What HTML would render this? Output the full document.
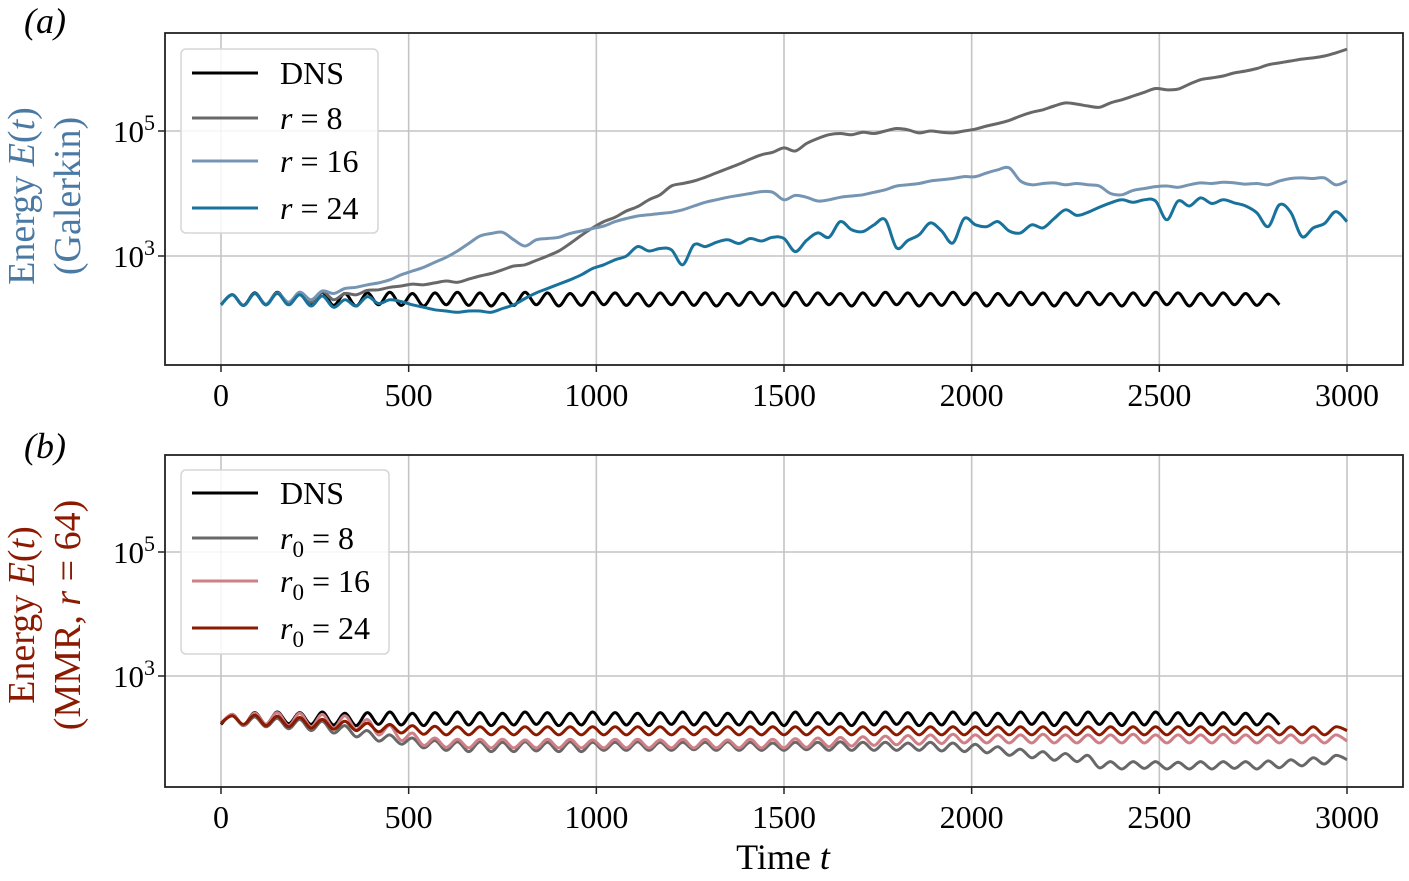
<!DOCTYPE html>
<html><head><meta charset="utf-8">
<style>
html,body{margin:0;padding:0;background:#fff;}
svg{display:block;font-family:"Liberation Serif","DejaVu Serif",serif;}
</style></head>
<body>
<svg id="chart" width="1409" height="881" viewBox="0 0 1409 881" xmlns="http://www.w3.org/2000/svg">
<rect x="0" y="0" width="1409" height="881" fill="#fff"/>
<g id="gA"></g>
<g id="gB"></g>
<text x="24" y="33" font-size="36" font-style="italic">(a)</text>
<text x="24" y="458" font-size="36" font-style="italic">(b)</text>
<text transform="translate(34,196) rotate(-90)" text-anchor="middle" font-size="38" fill="#4a7aa3">Energy <tspan font-style="italic">E</tspan>(<tspan font-style="italic">t</tspan>)</text>
<text transform="translate(80,196) rotate(-90)" text-anchor="middle" font-size="38" fill="#4a7aa3">(Galerkin)</text>
<text transform="translate(34,615) rotate(-90)" text-anchor="middle" font-size="38" fill="#8b1a00">Energy <tspan font-style="italic">E</tspan>(<tspan font-style="italic">t</tspan>)</text>
<text transform="translate(80,615) rotate(-90)" text-anchor="middle" font-size="38" fill="#8b1a00">(MMR, <tspan font-style="italic">r</tspan> = 64)</text>
<text x="783" y="869" text-anchor="middle" font-size="36">Time <tspan font-style="italic">t</tspan></text>
</svg>
<script>
const DT = 30;
const xTicks = [0, 500, 1000, 1500, 2000, 2500, 3000];
const yTickExps = [3, 5];
const dnsA = [2.22,2.38,2.21,2.41,2.22,2.42,2.23,2.41,2.22,2.42,
2.21,2.40,2.20,2.41,2.22,2.42,2.21,2.40,2.20,2.41,
2.22,2.42,2.21,2.41,2.20,2.40,2.21,2.42,2.22,2.41,
2.20,2.40,2.21,2.42,2.22,2.41,2.21,2.40,2.20,2.41,
2.22,2.42,2.21,2.41,2.20,2.40,2.21,2.42,2.22,2.41,
2.20,2.42,2.21,2.41,2.22,2.40,2.20,2.41,2.21,2.42,
2.22,2.41,2.20,2.40,2.21,2.42,2.22,2.41,2.20,2.40,
2.21,2.42,2.22,2.41,2.20,2.41,2.21,2.42,2.22,2.40,
2.20,2.41,2.21,2.42,2.22,2.41,2.20,2.40,2.21,2.41,
2.22,2.40,2.21,2.39,2.22];
const r8A = [2.22,2.38,2.21,2.40,2.22,2.41,2.24,2.42,2.26,2.43,2.30,2.40,2.38,2.45,2.46,2.50,2.52,2.55,2.54,2.57,
2.60,2.58,2.63,2.68,2.72,2.78,2.84,2.86,2.93,3.00,3.08,3.20,3.33,3.45,3.55,3.62,3.72,3.79,3.90,3.98,
4.12,4.16,4.20,4.26,4.33,4.40,4.47,4.55,4.62,4.66,4.73,4.68,4.80,4.88,4.94,4.96,4.94,4.98,4.96,5.00,
5.04,5.02,4.97,5.00,4.98,4.97,5.00,5.03,5.08,5.12,5.17,5.24,5.30,5.34,5.40,5.45,5.43,5.40,5.38,5.45,
5.50,5.56,5.62,5.68,5.66,5.67,5.75,5.82,5.85,5.88,5.93,5.96,6.00,6.06,6.09,6.12,6.15,6.17,6.20,6.25,6.31];
const r16A = [2.22,2.38,2.21,2.40,2.23,2.41,2.26,2.42,2.30,2.44,2.40,2.48,2.50,2.54,2.57,2.62,2.70,2.76,2.82,2.90,
2.98,3.08,3.20,3.32,3.36,3.38,3.26,3.16,3.26,3.28,3.30,3.36,3.40,3.44,3.48,3.55,3.60,3.64,3.66,3.68,
3.70,3.74,3.80,3.86,3.90,3.94,3.97,4.00,4.03,4.02,3.90,3.97,3.94,3.88,3.90,3.94,3.96,3.98,4.02,4.06,
4.12,4.14,4.16,4.20,4.22,4.24,4.27,4.27,4.33,4.38,4.41,4.20,4.14,4.16,4.17,4.14,4.16,4.14,4.12,4.00,
3.98,4.05,4.08,4.11,4.12,4.10,4.14,4.17,4.16,4.18,4.17,4.15,4.16,4.14,4.20,4.24,4.25,4.24,4.25,4.14,4.20];
const r24A = [2.22,2.38,2.21,2.40,2.22,2.40,2.22,2.38,2.20,2.36,2.18,2.30,2.20,2.35,2.24,2.30,2.27,2.22,2.18,2.14,
2.12,2.10,2.12,2.12,2.10,2.16,2.22,2.32,2.41,2.48,2.55,2.62,2.70,2.80,2.86,2.94,3.00,3.15,3.08,3.12,
3.10,2.86,3.18,3.15,3.22,3.26,3.20,3.28,3.24,3.30,3.28,3.07,3.25,3.37,3.30,3.55,3.42,3.39,3.50,3.58,
3.13,3.25,3.34,3.53,3.40,3.21,3.60,3.50,3.47,3.55,3.40,3.37,3.50,3.45,3.60,3.74,3.65,3.70,3.78,3.85,
3.90,3.86,3.90,3.88,3.58,3.88,3.80,3.93,3.84,3.90,3.85,3.80,3.69,3.47,3.82,3.70,3.31,3.45,3.52,3.71,3.55];
const r0_8B = [2.24,2.36,2.20,2.34,2.18,2.32,2.15,2.30,2.12,2.27,2.08,2.20,2.02,2.12,1.95,2.05,1.90,2.00,1.84,1.96,
1.80,1.94,1.78,1.94,1.78,1.93,1.78,1.94,1.79,1.93,1.78,1.94,1.78,1.93,1.80,1.93,1.80,1.94,1.80,1.93,
1.80,1.93,1.81,1.93,1.80,1.94,1.80,1.93,1.80,1.92,1.80,1.93,1.81,1.93,1.80,1.94,1.80,1.93,1.80,1.93,
1.80,1.92,1.80,1.93,1.79,1.92,1.78,1.90,1.76,1.86,1.72,1.82,1.68,1.78,1.64,1.75,1.62,1.72,1.52,1.62,
1.50,1.62,1.51,1.62,1.50,1.61,1.50,1.62,1.50,1.62,1.51,1.62,1.50,1.63,1.52,1.65,1.55,1.68,1.58,1.72,1.65];
const r0_16B = [2.24,2.38,2.21,2.40,2.22,2.41,2.20,2.40,2.18,2.38,2.16,2.36,2.14,2.30,2.05,2.20,1.96,2.08,1.88,2.00,
1.85,1.98,1.84,1.98,1.84,1.98,1.84,1.97,1.84,1.98,1.84,1.98,1.84,1.97,1.84,1.98,1.84,1.98,1.84,1.97,
1.84,1.98,1.84,1.98,1.84,1.97,1.84,1.98,1.84,1.98,1.84,1.99,1.85,2.00,1.86,2.01,1.87,2.02,1.88,2.03,
1.89,2.04,1.90,2.05,1.91,2.06,1.92,2.05,1.92,2.05,1.92,2.05,1.92,2.06,1.92,2.05,1.92,2.05,1.92,2.05,
1.92,2.06,1.92,2.05,1.92,2.05,1.92,2.05,1.92,2.06,1.92,2.05,1.92,2.05,1.92,2.05,1.92,2.05,1.92,2.05,1.95];
const r0_24B = [2.24,2.36,2.22,2.37,2.20,2.35,2.18,2.33,2.16,2.30,2.14,2.27,2.12,2.24,2.10,2.22,2.08,2.20,2.06,2.19,
2.05,2.18,2.05,2.18,2.05,2.18,2.05,2.18,2.05,2.18,2.05,2.18,2.05,2.18,2.05,2.18,2.05,2.18,2.05,2.18,
2.05,2.18,2.05,2.18,2.05,2.18,2.05,2.18,2.05,2.18,2.05,2.18,2.05,2.18,2.05,2.18,2.05,2.18,2.05,2.18,
2.05,2.18,2.05,2.18,2.05,2.18,2.05,2.18,2.05,2.18,2.05,2.18,2.05,2.18,2.05,2.18,2.05,2.18,2.05,2.18,
2.05,2.18,2.05,2.18,2.05,2.18,2.05,2.18,2.05,2.18,2.05,2.18,2.05,2.18,2.05,2.18,2.05,2.18,2.05,2.18,2.12];

const NS = 'http://www.w3.org/2000/svg';
function mk(parent, tag, attrs) {
  const e = document.createElementNS(NS, tag);
  for (const k in attrs) e.setAttribute(k, attrs[k]);
  parent.appendChild(e);
  return e;
}
const X0 = 165, X1 = 1403;
function xs(t) { return 221 + t * (1347 - 221) / 3000; }
function smoothPath(p) {
  let d = 'M' + p[0][0].toFixed(1) + ',' + p[0][1].toFixed(1);
  for (let i = 0; i < p.length - 1; i++) {
    const p0 = p[Math.max(0, i - 1)], p1 = p[i], p2 = p[i + 1], p3 = p[Math.min(p.length - 1, i + 2)];
    const c1x = p1[0] + (p2[0] - p0[0]) / 6, c1y = p1[1] + (p2[1] - p0[1]) / 6;
    const c2x = p2[0] - (p3[0] - p1[0]) / 6, c2y = p2[1] - (p3[1] - p1[1]) / 6;
    d += 'C' + c1x.toFixed(1) + ',' + c1y.toFixed(1) + ' ' + c2x.toFixed(1) + ',' + c2y.toFixed(1) + ' ' + p2[0].toFixed(1) + ',' + p2[1].toFixed(1);
  }
  return d;
}

function drawPanel(g, top, bottom, y5, pxPerDec, series, legend) {
  function ys(L) { return y5 + (5 - L) * pxPerDec; }
  xTicks.forEach(t => {
    const l = mk(g, 'line', {x1: xs(t), x2: xs(t), y1: top, y2: bottom, stroke: '#c4c4c4', 'stroke-width': 1.6});
    
    
    const tk = mk(g, 'line', {x1: xs(t), x2: xs(t), y1: bottom, y2: bottom + 7, stroke: '#222', 'stroke-width': 1.5});
    
    
    const tx = mk(g, 'text', {x: xs(t), y: bottom + 41, 'text-anchor': 'middle', 'font-size': 32});
    tx.textContent = t;
    
    
  });
  yTickExps.forEach(e => {
    const y = ys(e);
    const l = mk(g, 'line', {x1: X0, x2: X1, y1: y, y2: y, stroke: '#c4c4c4', 'stroke-width': 1.6});
    
    
    const tk = mk(g, 'line', {x1: X0 - 7, x2: X0, y1: y, y2: y, stroke: '#222', 'stroke-width': 1.5});
    
    
    const tx = mk(g, 'text', {x: 155, y: y + 11, 'text-anchor': 'end', 'font-size': 31});
    tx.innerHTML = '10<tspan dy="-12" font-size="22">' + e + '</tspan>';
    
    
  });
  series.forEach(s => {
    const pts = s.vals.map((v, i) => [xs(i * DT), ys(v)]);
    const p = mk(g, 'path', {d: smoothPath(pts), fill: 'none', stroke: s.color, 'stroke-width': 3, 'stroke-linejoin': 'round'});
    
    
  });
  const fr = mk(g, 'rect', {x: X0, y: top, width: X1 - X0, height: bottom - top, fill: 'none', stroke: '#222', 'stroke-width': 1.8});
  
  
  const lg = mk(g, 'g', {});
  
  
  const box = mk(lg, 'rect', {x: 181, y: legend.y, width: legend.w, height: 184, rx: 5, fill: '#fff', 'fill-opacity': 0.85, stroke: '#d6d6d6', 'stroke-width': 1.5});
  
  
  series.forEach((s, i) => {
    const yy = legend.y + legend.rows[i];
    const ln = mk(lg, 'line', {x1: 192, x2: 258, y1: yy, y2: yy, stroke: s.color, 'stroke-width': 3});
    
    
    const tx = mk(lg, 'text', {x: 280, y: yy + 11, 'font-size': 32});
    tx.innerHTML = s.label;
    
    
  });
}

drawPanel(document.getElementById('gA'), 33, 365, 131, 62.5, [
  {name: 'dns-line', color: '#000', vals: dnsA, label: 'DNS'},
  {name: 'r8-line', color: '#686868', vals: r8A, label: '<tspan font-style="italic">r</tspan> = 8'},
  {name: 'r16-line', color: '#7595b3', vals: r16A, label: '<tspan font-style="italic">r</tspan> = 16'},
  {name: 'r24-line', color: '#18729c', vals: r24A, label: '<tspan font-style="italic">r</tspan> = 24'}
], {y: 49, w: 197, rows: [24, 69, 112, 159]});

drawPanel(document.getElementById('gB'), 455, 787, 552, 62, [
  {name: 'dns-line', color: '#000', vals: dnsA, label: 'DNS'},
  {name: 'r0-8-line', color: '#686868', vals: r0_8B, label: '<tspan font-style="italic">r</tspan><tspan dy="8" font-size="23">0</tspan><tspan dy="-8"> = 8</tspan>'},
  {name: 'r0-16-line', color: '#cf7f86', vals: r0_16B, label: '<tspan font-style="italic">r</tspan><tspan dy="8" font-size="23">0</tspan><tspan dy="-8"> = 16</tspan>'},
  {name: 'r0-24-line', color: '#8b1a00', vals: r0_24B, label: '<tspan font-style="italic">r</tspan><tspan dy="8" font-size="23">0</tspan><tspan dy="-8"> = 24</tspan>'}
], {y: 470, w: 208, rows: [23, 68, 111, 158]});
</script>
</body></html>
